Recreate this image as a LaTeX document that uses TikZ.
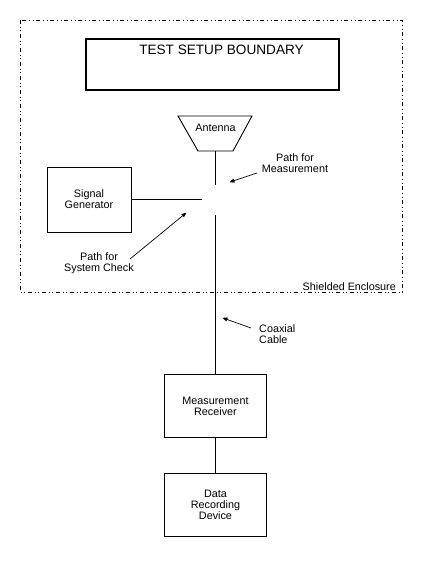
\documentclass[tikz,border=0pt]{standalone}
\usepackage{fontspec}
\setmainfont{Liberation Sans}
\usetikzlibrary{arrows, positioning}

\begin{document}
\begin{tikzpicture}[x=1pt,y=1pt,node distance=98.5pt,on grid,font=\fontsize{10.8}{11}\selectfont]
    \tikzstyle{block}=[shape=rectangle,draw,line width=0.9pt,minimum width=102pt,minimum height=63pt,align=center,inner sep=0pt]
    \tikzstyle{note}=[align=center,inner sep=0pt]
    \tikzstyle{wire}=[line width=0.8pt]
    \tikzstyle{pointer}=[->,>=stealth',line width=0.7pt]

    \useasboundingbox (0,0) rectangle (424,-568);

    % shielded enclosure
    \draw[line width=1pt,dash pattern=on 4pt off 2.5pt on 1pt off 2.5pt on 1pt off 3pt] (20,-20) rectangle (402,-292);
    \node[note,anchor=east] (shield) at (396,-287) {Shielded Enclosure};

    \node[block,minimum width=253pt,minimum height=51pt,line width=1.3pt] (boundary) at (212.5,-64.5) {};
    \node[note,font=\fontsize{13.6}{14}\selectfont] (title) at (221.5,-50) {TEST SETUP BOUNDARY};

    % antenna
    \draw[line width=0.9pt] (178,-116) -- (252,-116) -- (233,-151) -- (198,-151) -- cycle;
    \node[note] (antenna) at (215.5,-128) {Antenna};
    \coordinate (feed) at (215.5,-151);

    \node[block,minimum width=84pt,minimum height=65pt] (siggen) at (89,-199.5) {Signal\\Generator};

    \node[block] (receiver) at (215.5,-406) {Measurement\\Receiver};
    \node[block,below=of receiver] (recorder) {Data\\Recording\\Device};

    % switch ends
    \coordinate (swtop) at (215.5,-185);
    \coordinate (swbot) at (215.5,-215);
    \coordinate (swleft) at (202,-199.5);

    \draw[wire] (feed) -- (swtop);
    \draw[wire] (siggen) -- (swleft);
    \draw[wire] (swbot) -- (receiver);
    \draw[wire] (receiver) -- (recorder);

    \node[note] (meas) at (295,-163) {Path for\\Measurement};
    \node[note] (check) at (99,-263) {Path for\\System Check};
    \node[note,align=left,anchor=west] (coax) at (259,-334.5) {Coaxial\\Cable};

    \coordinate (measA) at (257,-173);
    \coordinate (measB) at (230,-182);
    \coordinate (checkA) at (130,-259);
    \coordinate (checkB) at (186,-213);
    \coordinate (coaxA) at (251,-328);
    \coordinate (coaxB) at (223,-318);

    \path[pointer]
    (measA) edge (measB)
    (checkA) edge (checkB)
    (coaxA) edge (coaxB)
    ;

\end{tikzpicture}
\end{document}
